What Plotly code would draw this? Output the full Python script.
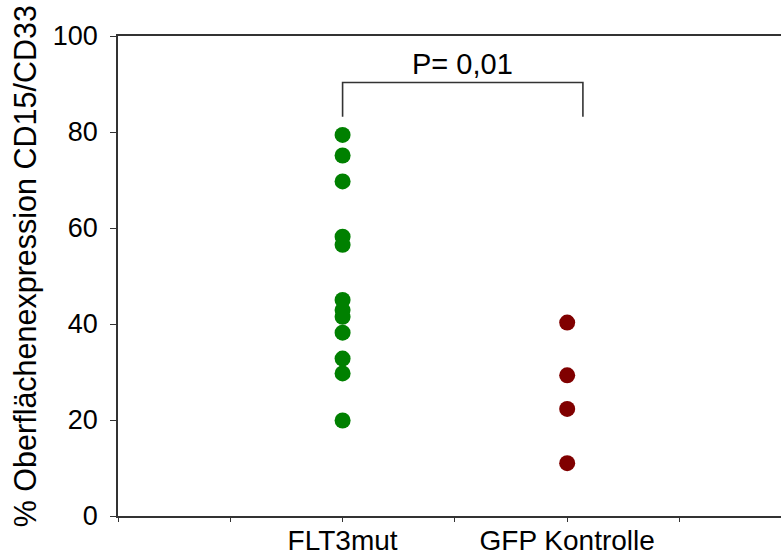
import plotly.graph_objects as go

# Group positions on the numeric x axis and their labels
groups = ["FLT3mut", "GFP Kontrolle"]
group_pos = [2, 4]

# Surface expression values (%) per sample
flt3mut_values = [79.4, 75.1, 69.7, 58.2, 56.5, 45.0, 42.9, 41.5, 38.2, 32.8, 29.7, 19.9]
gfp_values = [40.3, 29.3, 22.3, 11.0]

# Significance bracket between the two groups
bracket_x = [2, 2, 4.14, 4.14]
bracket_y = [83.2, 90.3, 90.3, 83.2]
p_label = "P= 0,01"

y_ticks = [0, 20, 40, 60, 80, 100]
x_ticks = [0, 1, 2, 3, 4, 5]
x_ticktext = ["", "", groups[0], "", groups[1], ""]

FONT = "Liberation Sans, Arial, sans-serif"
AXIS_COLOR = "#333333"

fig = go.Figure()

fig.add_trace(go.Scatter(
    x=[group_pos[0]] * len(flt3mut_values), y=flt3mut_values,
    mode="markers", marker=dict(color="#008000", size=16, line=dict(width=0)),
    showlegend=False, cliponaxis=False,
))
fig.add_trace(go.Scatter(
    x=[group_pos[1]] * len(gfp_values), y=gfp_values,
    mode="markers", marker=dict(color="#800000", size=16, line=dict(width=0)),
    showlegend=False, cliponaxis=False,
))
fig.add_trace(go.Scatter(
    x=bracket_x, y=bracket_y, mode="lines",
    line=dict(color="#333333", width=1.6),
    showlegend=False, cliponaxis=False, hoverinfo="skip",
))

fig.add_annotation(
    x=(bracket_x[1] + bracket_x[2]) / 2, y=94.2, xref="x", yref="y",
    xanchor="center", yanchor="middle",
    text=p_label, showarrow=False,
    font=dict(family=FONT, size=29, color="#000000"),
)

fig.add_annotation(
    x=-0.139, y=0.52, xref="paper", yref="paper",
    xanchor="center", yanchor="middle",
    text="% Oberflächenexpression CD15/CD33", textangle=-90,
    showarrow=False, font=dict(family=FONT, size=30.5, color="#000000"),
)

fig.update_layout(
    width=781, height=558,
    margin=dict(l=118, r=0, t=36, b=42),
    paper_bgcolor="white", plot_bgcolor="white",
    font=dict(family=FONT, color="#000000"),
)

fig.update_xaxes(
    range=[0, 5.904], tickmode="array", tickvals=x_ticks, ticktext=x_ticktext,
    ticks="outside", ticklen=4, tickwidth=1.2, tickcolor=AXIS_COLOR,
    showline=True, linecolor=AXIS_COLOR, linewidth=1.6, mirror=True,
    showgrid=False, zeroline=False, automargin=False,
    ticklabelstandoff=-5,
    tickfont=dict(family=FONT, size=28, color="#000000"),
)
fig.update_yaxes(
    range=[0, 100], tickmode="array", tickvals=y_ticks,
    ticks="outside", ticklen=6, tickwidth=1.2, tickcolor=AXIS_COLOR,
    showline=True, linecolor=AXIS_COLOR, linewidth=1.6,
    showgrid=False, zeroline=False, automargin=False,
    ticklabelstandoff=7,
    tickfont=dict(family=FONT, size=27, color="#000000"),
)

fig.write_html("out.html")
